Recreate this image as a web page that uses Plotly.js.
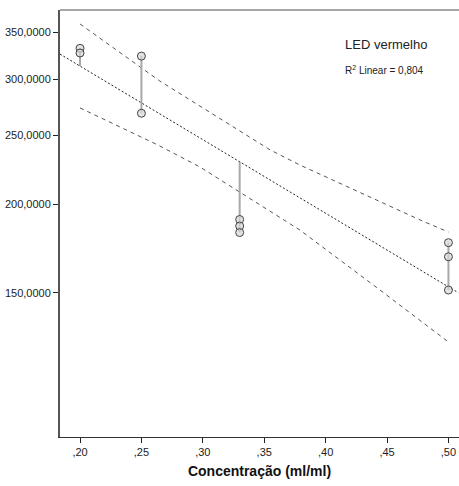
<!DOCTYPE html>
<html>
<head>
<meta charset="utf-8">
<script src="https://cdn.plot.ly/plotly-3.0.1.min.js"></script>
<style>html,body{margin:0;padding:0;background:#fff;}#chart{width:459px;height:486px;}</style>
</head>
<body>
<div id="chart"></div>
<script>
// Observed data
const obsX = [0.20, 0.20, 0.25, 0.25, 0.33, 0.33, 0.33, 0.50, 0.50, 0.50];
const obsY = [332, 327, 323.7, 268.8, 190.3, 186.3, 182.4, 176.5, 168.6, 151.3];
// Fit line (end points)
const fitX = [0.1837, 0.508];
const fitY = [325.8, 150.0];
// Confidence band
const upperX = [0.20, 0.265, 0.355, 0.379, 0.477, 0.50];
const upperY = [359.3, 298.5, 238.5, 227.2, 190.0, 182.7];
const lowerX = [0.20, 0.2635, 0.2977, 0.379, 0.4443, 0.50];
const lowerY = [273.5, 242.4, 225.7, 183.9, 151.3, 127.8];
// Ticks
const xTickVals = [0.20, 0.25, 0.30, 0.35, 0.40, 0.45, 0.50];
const xTickText = [",20", ",25", ",30", ",35", ",40", ",45", ",50"];
const yTickVals = [150, 200, 250, 300, 350];
const yTickText = ["150,0000", "200,0000", "250,0000", "300,0000", "350,0000"];

function fitAt(x) {
  const t = (x - fitX[0]) / (fitX[1] - fitX[0]);
  const l0 = Math.log10(fitY[0]), l1 = Math.log10(fitY[1]);
  return Math.pow(10, l0 + t * (l1 - l0));
}

// spikes: from each group to fit line
const groups = [...new Set(obsX)];
const spikeX = [], spikeY = [];
groups.forEach(g => {
  const ys = obsY.filter((v, i) => obsX[i] === g);
  const f = fitAt(g);
  const lo = Math.min(...ys, f), hi = Math.max(...ys, f);
  spikeX.push(g, g, null);
  spikeY.push(lo, hi, null);
});

const traces = [
  {x: upperX, y: upperY, mode: 'lines', line: {color: '#555', width: 1, dash: '4px,4px'}, hoverinfo: 'skip'},
  {x: lowerX, y: lowerY, mode: 'lines', line: {color: '#555', width: 1, dash: '4px,4px'}, hoverinfo: 'skip'},
  {x: fitX, y: fitY, mode: 'lines', line: {color: '#222', width: 1, dash: '2px,2px'}, hoverinfo: 'skip'},
  {x: spikeX, y: spikeY, mode: 'lines', line: {color: '#a8a8a8', width: 2}, hoverinfo: 'skip'},
  {x: obsX, y: obsY, mode: 'markers', marker: {symbol: 'circle', size: 8, color: 'rgba(215,215,215,0.7)', line: {color: '#444', width: 1}}}
];

const layout = {
  width: 459, height: 486,
  margin: {l: 60, r: 0, t: 10, b: 49},
  paper_bgcolor: '#fff', plot_bgcolor: '#fff',
  showlegend: false,
  font: {family: 'Liberation Sans, Arial, sans-serif', color: '#222'},
  xaxis: {
    range: [0.1837, 0.5086],
    tickvals: xTickVals, ticktext: xTickText,
    ticks: 'outside', ticklen: 5, tickcolor: '#222', tickwidth: 1,
    showline: true, linecolor: '#333', linewidth: 1,
    showgrid: false, zeroline: false,
    tickfont: {size: 11, color: '#222'},
    title: {text: 'Concentração (ml/ml)', font: {size: 14, color: '#111', family: 'Liberation Sans, Arial, sans-serif', weight: 'bold'}, standoff: 8}
  },
  yaxis: {
    type: 'log',
    range: [1.9724, 2.5752],
    tickvals: yTickVals, ticktext: yTickText,
    ticks: 'outside', ticklen: 5, tickcolor: '#222', tickwidth: 1,
    showline: true, linecolor: '#555', linewidth: 2,
    showgrid: false, zeroline: false,
    tickfont: {size: 11, color: '#222'}
  },
  shapes: [
    {type: 'line', xref: 'paper', yref: 'paper', x0: 0, x1: 1, y0: 1, y1: 1, line: {color: '#888', width: 1.5}}
  ],
  annotations: [
    {xref: 'paper', yref: 'paper', x: (343 - 60) / 399, y: (437 - 45) / 427, xanchor: 'left', yanchor: 'middle', text: 'LED vermelho', showarrow: false, font: {size: 13, color: '#222'}},
    {xref: 'paper', yref: 'paper', x: (343 - 60) / 399, y: (437 - 70) / 427, xanchor: 'left', yanchor: 'middle', text: 'R<sup>2</sup> Linear = 0,804', showarrow: false, font: {size: 10, color: '#222'}}
  ]
};

Plotly.newPlot('chart', traces, layout, {displayModeBar: false, staticPlot: true});
</script>
</body>
</html>
